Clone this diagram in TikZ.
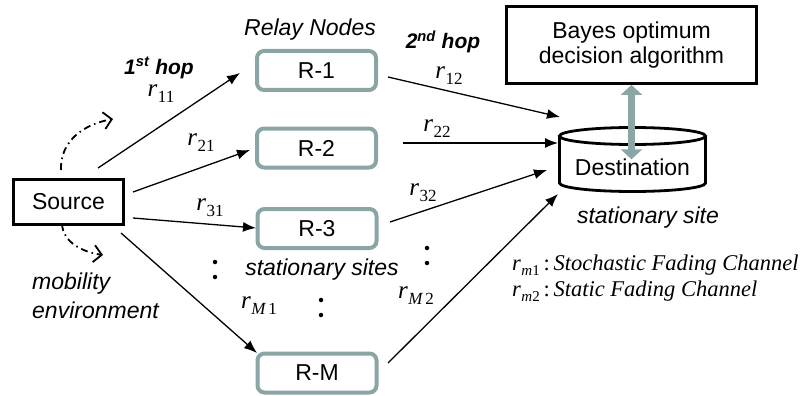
\documentclass[tikz,border=0pt]{standalone}
\usepackage{fontspec}
\setmainfont{Liberation Sans}
\newfontfamily\tmsfont{Liberation Serif}
\usetikzlibrary{arrows.meta}
\definecolor{relaygray}{RGB}{139,165,165}
\definecolor{dblgray}{RGB}{140,165,165}
\newcommand\rlab[1]{{\tmsfont\itshape r}\kern0.5pt\raisebox{-6pt}{\fontsize{17}{17}\selectfont\tmsfont\upshape #1}}
\newcommand\msub[1]{\kern0.5pt\raisebox{-5pt}{\fontsize{15}{15}\selectfont\tmsfont #1}}
\begin{document}
\begin{tikzpicture}[x=1pt,y=-1pt,
  txt/.style={font=\fontsize{23}{25}\selectfont, inner sep=0pt},
  itxt/.style={font=\fontsize{23}{25}\selectfont\itshape, inner sep=0pt},
  hoptxt/.style={font=\fontsize{21}{24}\selectfont\bfseries\itshape, inner sep=0pt},
  rtxt/.style={font=\fontsize{25}{26}\selectfont, inner sep=0pt},
  legtxt/.style={font=\fontsize{22.5}{25}\selectfont\tmsfont\itshape, inner sep=0pt, anchor=west},
  blackbox/.style={draw=black, line width=2.8pt, txt, align=center},
  relay/.style={draw=relaygray, line width=4pt, rounded corners=7pt, txt,
     minimum width=119pt, minimum height=39pt},
  conn/.style={-{Latex[length=13pt,width=10pt]}, line width=1.3pt},
  mob/.style={-{Straight Barb[length=8pt,width=17pt,line width=1.8pt]}, line width=1.8pt,
     dash pattern=on 7pt off 4pt on 1.5pt off 4pt},
  dot/.style={fill=black, circle, inner sep=0pt, minimum size=4.5pt}
]
\useasboundingbox (0,0) rectangle (804,396);

% nodes
\node[blackbox, minimum width=110pt, minimum height=45pt] (src) at (68.5,202) {Source};
\node[relay] (r1) at (316.5,70.5) {R-1};
\node[relay] (r2) at (316.5,148) {R-2};
\node[relay] (r3) at (317,228.5) {R-3};
\node[relay] (rm) at (317,373) {R-M};
\node[blackbox, minimum width=250pt, minimum height=77pt] (bayes) at (631.5,45) {Bayes optimum\\decision algorithm};

% destination cylinder
\draw[line width=2.8pt] (632.5,136) ellipse [x radius=73, y radius=8.5];
\draw[line width=2.8pt] (559.5,136) -- (559.5,183) arc [start angle=180, end angle=0, x radius=73, y radius=8.5] -- (705.5,136);
\node[txt] (dest) at (632.5,167) {Destination};

% text labels
\node[itxt] (relaynodes) at (310,30) {Relay Nodes};
\node[itxt] (stsites) at (322,270) {stationary sites};
\node[itxt] (stsite) at (648,218) {stationary site};
\node[itxt, anchor=west] (mob1) at (32,284) {mobility};
\node[itxt, anchor=west] (mob2) at (32,310) {environment};
\node[hoptxt] (hop1) at (159,68) {1\textsuperscript{st} hop};
\node[hoptxt] (hop2) at (443,42) {2\textsuperscript{nd} hop};

\node[rtxt] (l11) at (161,94) {\rlab{11}};
\node[rtxt] (l21) at (201,143) {\rlab{21}};
\node[rtxt] (l31) at (210,208) {\rlab{31}};
\node[rtxt] (lm1) at (259,306) {\rlab{\itshape M\,\upshape 1}};
\node[rtxt] (l12) at (449,76) {\rlab{12}};
\node[rtxt] (l22) at (437,129) {\rlab{22}};
\node[rtxt] (l32) at (423,193) {\rlab{32}};
\node[rtxt] (lm2) at (416,296) {\rlab{\itshape M\,\upshape 2}};

\node[legtxt] (leg1) at (512,265) {r\msub{m\upshape 1}\,{\upshape:}\,Stochastic Fading Channel};
\node[legtxt] (leg2) at (512,291) {r\msub{m\upshape 2}\,{\upshape:}\,Static Fading Channel};

% vertical dots
\node[dot] (d1a) at (215,262) {};
\node[dot] (d1b) at (215,277) {};
\node[dot] (d2a) at (321,300) {};
\node[dot] (d2b) at (321,315) {};
\node[dot] (d3a) at (427,248) {};
\node[dot] (d3b) at (427,263) {};

% connector end points
\coordinate (s1) at (98,168);
\coordinate (s2) at (133,192);
\coordinate (s3) at (133,218);
\coordinate (s4) at (121,233);
\coordinate (t1) at (240,73);
\coordinate (t2) at (250,150);
\coordinate (t3) at (256,228);
\coordinate (t4) at (257,353);
\coordinate (o1) at (388,77);
\coordinate (o2) at (403,143);
\coordinate (o3) at (390,222);
\coordinate (o4) at (388,363);
\coordinate (e1) at (560,117);
\coordinate (e2) at (558,143);
\coordinate (e3) at (547,170);
\coordinate (e4) at (558,194);

\draw[conn] (s1) -- (t1);
\draw[conn] (s2) -- (t2);
\draw[conn] (s3) -- (t3);
\draw[conn] (s4) -- (t4);
\draw[conn] (o1) -- (e1);
\draw[conn] (o2) -- (e2);
\draw[conn] (o3) -- (e3);
\draw[conn] (o4) -- (e4);

% double arrow
\draw[dblgray, line width=7pt, {Triangle[width=21pt,length=10pt]}-{Triangle[width=21pt,length=10pt]}]
  (bayes.south) -- ([yshift=-1pt]dest.north -| bayes.south);

% mobility arrows
\coordinate (m1s) at (61,170);
\coordinate (m1e) at (113,119);
\coordinate (m2s) at (62,224);
\coordinate (m2e) at (103,255);
\draw[mob] (m1s) .. controls (60,140) and (85,124) .. (m1e);
\draw[mob] (m2s) .. controls (63,242) and (82,252) .. (m2e);
\end{tikzpicture}
\end{document}
